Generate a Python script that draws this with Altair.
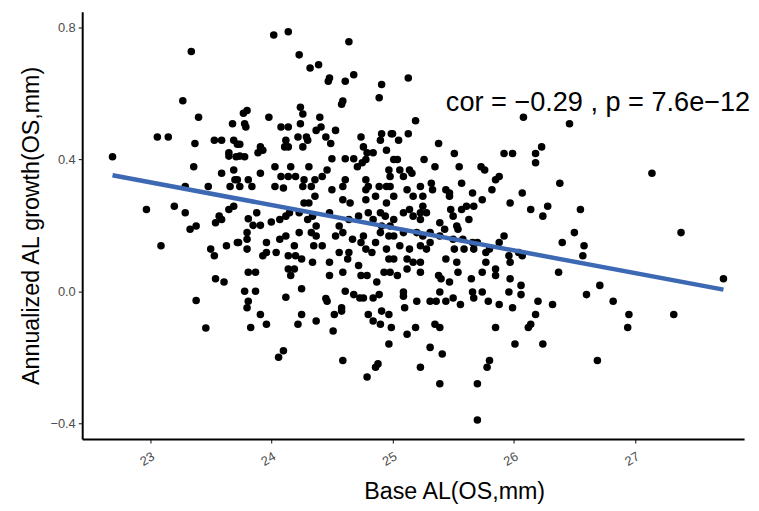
import altair as alt
import pandas as pd

# ---- data (Base AL in mm, annualized AL growth in mm) ----
xA = [23.34, 23.27, 23.40, 23.68, 23.06, 23.15, 23.37, 23.53, 23.59, 23.69, 23.72, 22.69, 23.65, 23.65, 23.71]
yA = [0.727, 0.578, 0.528, 0.508, 0.468, 0.468, 0.448, 0.458, 0.458, 0.458, 0.446, 0.408, 0.420, 0.410, 0.408]

xB = [24.02, 24.14, 24.64, 24.23, 24.32, 24.39, 24.48, 24.47, 24.61, 24.68,
      24.91, 24.89, 24.59, 24.58, 24.24, 24.26, 24.40, 23.98, 23.77, 23.80,
      23.78, 23.79, 24.08, 24.14, 24.24, 24.37, 24.41, 24.53, 24.22, 24.29,
      24.30, 24.12, 24.11, 24.14, 24.45, 24.49, 24.26, 24.74, 24.76, 24.79,
      24.84, 24.91, 24.90, 24.99, 24.95, 23.74, 23.91, 23.93, 23.89, 23.74,
      23.78, 24.50, 24.61, 24.68, 24.78]
yB = [0.777, 0.787, 0.757, 0.717, 0.677, 0.687, 0.647, 0.637, 0.637, 0.657,
      0.627, 0.587, 0.577, 0.567, 0.558, 0.538, 0.528, 0.528, 0.540, 0.548,
      0.508, 0.498, 0.498, 0.498, 0.508, 0.488, 0.498, 0.488, 0.468, 0.468,
      0.458, 0.458, 0.438, 0.438, 0.468, 0.448, 0.438, 0.468, 0.438, 0.420,
      0.420, 0.478, 0.458, 0.478, 0.428, 0.446, 0.438, 0.428, 0.420, 0.410,
      0.408, 0.402, 0.402, 0.402, 0.400]

xC = [25.13, 25.19, 25.00, 25.05, 25.13, 25.38, 25.51, 25.26, 25.04, 26.08, 25.92, 25.99, 26.18, 26.23, 26.46]
yC = [0.647, 0.517, 0.478, 0.458, 0.478, 0.448, 0.418, 0.400, 0.400, 0.528, 0.418, 0.418, 0.418, 0.438, 0.508]

xD = [23.36, 23.59, 23.69, 23.70, 23.66, 23.29, 23.48, 22.97, 23.20, 23.29, 23.57, 23.59, 23.54,
      23.65, 23.69, 23.38, 23.33, 23.09, 23.50, 23.53, 23.63, 23.72, 23.54, 23.61, 23.38, 23.46]
yD = [0.378, 0.358, 0.368, 0.338, 0.318, 0.318, 0.318, 0.248, 0.258, 0.238, 0.228, 0.218, 0.208,
      0.248, 0.258, 0.198, 0.188, 0.138, 0.128, 0.108, 0.138, 0.148, 0.038, 0.028, -0.028, -0.111]

xE = [24.03, 24.16, 24.31, 24.46, 24.71, 24.75, 24.97, 23.91, 24.08, 24.14,
      24.20, 24.27, 24.36, 24.42, 24.61, 24.78, 24.80, 23.72, 23.81, 23.74,
      23.84, 24.03, 24.10, 24.26, 24.33, 24.50, 24.59, 24.78, 24.89, 24.95,
      24.36, 24.27, 24.31, 24.59, 24.65, 24.78, 24.86, 24.95]
yE = [0.378, 0.378, 0.378, 0.368, 0.378, 0.390, 0.368, 0.358, 0.348, 0.348,
      0.348, 0.338, 0.338, 0.348, 0.338, 0.338, 0.318, 0.338, 0.338, 0.318,
      0.318, 0.318, 0.313, 0.318, 0.318, 0.308, 0.318, 0.308, 0.318, 0.318,
      0.288, 0.268, 0.268, 0.278, 0.268, 0.278, 0.288, 0.268]

xF = [23.88, 23.81, 23.85, 23.91, 24.00, 24.07, 24.12, 24.15, 24.23, 24.30, 24.34,
      24.37, 24.48, 24.56, 24.64, 24.72, 24.80, 24.84, 24.90, 24.94, 24.91, 24.98]
yF = [0.238, 0.220, 0.200, 0.200, 0.210, 0.218, 0.228, 0.238, 0.238, 0.218, 0.228,
      0.198, 0.238, 0.198, 0.218, 0.228, 0.238, 0.218, 0.238, 0.228, 0.198, 0.198]

xG = [23.80, 23.80, 23.73, 23.96, 24.07, 24.12, 24.19, 24.23, 24.33, 24.37,
      24.35, 24.42, 24.53, 24.59, 24.67, 24.74, 24.76, 24.86, 24.90, 24.97]
yG = [0.178, 0.158, 0.148, 0.148, 0.158, 0.168, 0.138, 0.178, 0.178, 0.168,
      0.138, 0.138, 0.168, 0.178, 0.158, 0.148, 0.168, 0.148, 0.178, 0.168]

xH = [23.80, 23.96, 23.93, 24.04, 24.14, 24.20, 24.25, 24.34, 24.48, 24.56,
      24.63, 24.64, 24.72, 24.78, 24.83, 24.95, 24.97, 23.81, 23.87, 24.14,
      24.19, 24.16, 24.48, 24.59, 24.74, 24.79, 24.87, 24.93, 24.25, 23.78,
      23.87, 24.12, 24.45, 24.61, 24.68, 24.76, 24.89]
yH = [0.128, 0.118, 0.108, 0.118, 0.108, 0.108, 0.098, 0.088, 0.088, 0.118,
      0.098, 0.118, 0.078, 0.128, 0.118, 0.128, 0.098, 0.058, 0.058, 0.068,
      0.068, 0.048, 0.048, 0.058, 0.048, 0.048, 0.028, 0.058, 0.008, 0.000,
      0.000, -0.018, -0.022, 0.000, -0.010, -0.020, -0.010]

xI = [23.81, 23.80, 23.91, 23.96, 23.83, 24.25, 24.22, 24.37, 24.46, 24.52,
      24.58, 24.58, 24.51, 24.73, 24.84, 24.80, 24.84, 24.91, 24.90, 24.97,
      24.99, 24.97, 24.10, 24.06, 24.59, 24.88, 24.86, 24.79]
yI = [-0.030, -0.050, -0.070, -0.100, -0.110, -0.070, -0.100, -0.090, -0.030, -0.070,
      -0.050, -0.060, -0.120, -0.020, -0.020, -0.070, -0.090, -0.060, -0.100, -0.070,
      -0.110, -0.160, -0.180, -0.200, -0.210, -0.220, -0.230, -0.260]

xJ = [25.09, 25.20, 25.31, 25.36, 25.44, 25.50, 25.56, 25.67, 25.79, 25.88,
      25.99, 26.20, 26.18, 25.10, 25.19, 25.12, 25.35, 25.39, 25.85, 26.12,
      26.14, 25.31, 25.41, 25.23, 25.80, 25.78, 26.01, 26.24, 25.39, 25.70, 25.70]
yJ = [-0.015, -0.030, -0.030, -0.030, -0.030, -0.020, -0.040, -0.020, -0.030, -0.040,
      -0.050, -0.030, -0.070, -0.050, -0.110, -0.130, -0.100, -0.110, -0.110, -0.110,
      -0.100, -0.170, -0.190, -0.230, -0.210, -0.230, -0.160, -0.160, -0.280, -0.280, -0.390]

xK = [26.32, 26.60, 26.82, 26.95, 26.94, 27.32, 26.69, 27.14, 26.38, 26.28,
      26.24, 26.55, 26.50, 26.40, 26.58, 26.57, 27.38, 26.37, 26.71, 27.73]
yK = [-0.040, -0.010, -0.030, -0.070, -0.110, -0.070, -0.210, 0.358, 0.328, 0.258,
      0.228, 0.248, 0.178, 0.148, 0.138, 0.108, 0.178, 0.058, 0.018, 0.038]

xL = [25.01, 26.18, 25.06, 25.14, 25.35, 25.55, 25.73, 25.76, 24.98, 25.09,
      25.16, 25.88, 25.85, 24.98, 25.12, 25.23, 25.32, 25.33, 25.44, 25.57,
      25.82, 26.07, 25.01, 25.17, 25.25, 25.47, 25.47, 25.66, 25.74]
yL = [0.400, 0.390, 0.368, 0.368, 0.378, 0.378, 0.378, 0.368, 0.348, 0.348,
      0.358, 0.348, 0.338, 0.318, 0.308, 0.318, 0.328, 0.308, 0.308, 0.328,
      0.308, 0.298, 0.288, 0.288, 0.288, 0.298, 0.288, 0.298, 0.278]

xM = [25.14, 25.25, 25.28, 25.48, 25.50, 25.57, 25.61, 25.67, 25.97, 26.14,
      25.01, 25.09, 25.17, 25.23, 25.23, 25.39, 25.43, 25.53, 25.54, 25.63,
      25.01, 25.09, 25.20, 25.25, 25.31, 25.39, 25.50, 25.58, 25.66, 25.70, 25.92, 25.88]
yM = [0.248, 0.258, 0.238, 0.248, 0.228, 0.248, 0.258, 0.258, 0.268, 0.248,
      0.218, 0.238, 0.228, 0.238, 0.218, 0.208, 0.188, 0.198, 0.188, 0.218,
      0.168, 0.178, 0.178, 0.168, 0.178, 0.168, 0.158, 0.158, 0.148, 0.148, 0.168, 0.148]

xN = [25.06, 25.14, 25.23, 25.28, 25.31, 25.51, 25.59, 25.67, 25.77, 25.80, 25.96, 26.04, 26.07,
      25.01, 25.12, 25.17, 25.23, 25.44, 25.53, 25.77, 25.97, 25.85,
      24.98, 25.04, 25.12, 25.23, 25.38, 25.40, 25.47, 25.54, 25.65, 25.74, 25.85, 25.97, 26.06,
      25.09, 25.39, 25.66, 25.74, 25.96, 26.06]
yN = [0.138, 0.128, 0.138, 0.128, 0.148, 0.128, 0.128, 0.128, 0.118, 0.128, 0.108, 0.118, 0.108,
      0.098, 0.098, 0.088, 0.088, 0.098, 0.088, 0.088, 0.088, 0.068,
      0.058, 0.048, 0.068, 0.058, 0.048, 0.038, 0.028, 0.058, 0.038, 0.058, 0.048, 0.038, 0.018,
      -0.002, -0.002, -0.002, -0.002, -0.002, -0.010]

# fitted regression line (end points)
fit_x = [22.69, 27.73]
fit_y = [0.352, 0.005]

annotation = "cor = \u22120.29 , p = 7.6e\u221212"
ann_x = [25.44]
ann_y = [0.547]

x_ticks = [23, 24, 25, 26, 27]
y_ticks = [-0.4, 0.0, 0.4, 0.8]

# ---- build tables ----
xs = xA + xB + xC + xD + xE + xF + xG + xH + xI + xJ + xK + xL + xM + xN
ys = yA + yB + yC + yD + yE + yF + yG + yH + yI + yJ + yK + yL + yM + yN
df = pd.DataFrame({"base_al": xs, "growth": ys})
fit_df = pd.DataFrame({"base_al": fit_x, "growth": fit_y})
ann_df = pd.DataFrame({"base_al": ann_x, "growth": ann_y, "label": [annotation]})

FONT = "Liberation Sans"
xscale = alt.Scale(domain=[22.44, 27.90], nice=False, zero=False)
yscale = alt.Scale(domain=[-0.448, 0.848], nice=False, zero=False)

x_enc = alt.X(
    "base_al:Q", scale=xscale,
    axis=alt.Axis(values=x_ticks, format="d", labelAngle=330, labelAlign="right",
                  labelBaseline="top", labelPadding=7, title="Base AL(OS,mm)",
                  titleX=376, titleY=53, titleBaseline="middle", titleAlign="center"),
)
y_enc = alt.Y(
    "growth:Q", scale=yscale,
    axis=alt.Axis(values=y_ticks, format=".1f", labelPadding=3,
                  title="Annualized AL growth(OS,mm)",
                  titleX=-51, titleY=216, titleBaseline="middle", titleAlign="center"),
)

points = alt.Chart(df).mark_circle(size=58, color="black", opacity=1).encode(x=x_enc, y=y_enc)

line = alt.Chart(fit_df).mark_line(color="#3D68B3", strokeWidth=4.5).encode(
    x=alt.X("base_al:Q", scale=xscale), y=alt.Y("growth:Q", scale=yscale)
)

text = alt.Chart(ann_df).mark_text(
    align="left", baseline="alphabetic", fontSize=27.4, font=FONT, color="black"
).encode(
    x=alt.X("base_al:Q", scale=xscale), y=alt.Y("growth:Q", scale=yscale), text="label:N"
)

chart = (
    alt.layer(points, line, text)
    .properties(
        width=669, height=432,
        autosize=alt.AutoSizeParams(type="none"),
        padding={"left": 75, "top": 1, "right": 7, "bottom": 70},
    )
    .configure_view(stroke=None)
    .configure_axis(
        grid=False, domainColor="black", domainWidth=2, tickColor="#333333",
        tickSize=4, tickWidth=1.2, labelColor="#4D4D4D", labelFont=FONT, labelFontSize=13,
        titleFont=FONT, titleFontSize=23.5, titleFontWeight="normal", titleColor="black",
    )
)

chart.save("out.html", embed_options={"renderer": "svg", "actions": False})
